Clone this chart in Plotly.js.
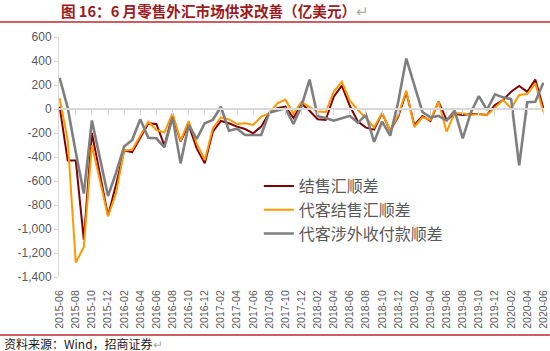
<!DOCTYPE html>
<html>
<head>
<meta charset="utf-8">
<script src="https://cdn.plot.ly/plotly-3.0.1.min.js"></script>
<style>html,body{margin:0;padding:0;background:#fff;}#chart{width:550px;height:351px;}</style>
</head>
<body>
<div id="chart"></div>
<script>
// Months 2015-06 .. 2020-06
const months = [];
for (let y = 2015; y <= 2020; y++) {
  for (let m = 1; m <= 12; m++) {
    if ((y === 2015 && m < 6) || (y === 2020 && m > 6)) continue;
    months.push(y + '-' + (m < 10 ? '0' + m : '' + m));
  }
}
const tickMonths = months.filter((_, i) => i % 2 === 0);

// 结售汇顺差 (亿美元)
const jieShouHui = [20, -430, -430, -1090, -200, -550, -890, -630, -345, -360,
  -240, -120, -125, -305, -50, -270, -133, -328, -453, -189,
  -100, -119, -147, -167, -203, -147, -31, 6, 19, -75,
  45, -15, -85, -92, 103, 195, 25, -105, -155, -172,
  -36, -181, -64, 140, -135, -58, -100, 61, -92, -42,
  -50, -42, -42, -50, 33, 75, 144, 192, 144, 245, 6];

// 代客结售汇顺差
const daiKeJieShouHui = [90, -260, -1280, -1150, -300, -590, -895, -700, -345, -340,
  -217, -106, -175, -195, -36, -265, -100, -286, -425, -161,
  -69, -86, -125, -119, -133, -64, -36, 47, 78, -40,
  60, 15, -20, -25, 144, 228, 70, -8, -75, -155,
  -31, -181, -50, 153, -150, -69, -92, 61, -189, -36,
  -36, -50, -42, -50, 10, 75, 6, 117, 125, 214, -25];

// 代客涉外收付款顺差
const daiKeSheWai = [260, 10, -360, -705, -95, -410, -725, -530, -312, -258,
  -86, -239, -244, -319, -70, -453, -133, -250, -119, -92,
  19, -181, -164, -217, -217, -217, -31, -14, 6, -125,
  25, 245, -60, -75, -97, -78, -57, -115, -47, -275,
  -105, -222, 60, 420, 190, -25, -69, -58, -97, -14,
  -244, -31, 108, -8, 122, 97, 83, -470, 56, 61, 219];

const yTicks = [600, 400, 200, 0, -200, -400, -600, -800, -1000, -1200, -1400];
const yTickText = yTicks.map(v => (v < 0 ? '-' : '') + Math.abs(v).toLocaleString('en-US'));

const seriesNames = ['结售汇顺差', '代客结售汇顺差', '代客涉外收付款顺差'];
const seriesColors = ['#800000', '#FF9900', '#7F7F7F'];
const seriesWidths = [2, 2, 2.6];
const seriesData = [jieShouHui, daiKeJieShouHui, daiKeSheWai];

const traces = seriesData.map((d, k) => ({
  type: 'scatter', mode: 'lines', x: months, y: d, name: seriesNames[k],
  line: {color: seriesColors[k], width: seriesWidths[k]}, hoverinfo: 'skip'
}));
// invisible carrier trace for the zero-line axis
traces.unshift({
  type: 'scatter', mode: 'lines', x: months, y: jieShouHui, xaxis: 'x2',
  line: {color: 'rgba(0,0,0,0)', width: 0}, showlegend: false, hoverinfo: 'skip'
});

const range = [-0.08, months.length - 1 + 0.08];
const layout = {
  width: 550, height: 351,
  margin: {l: 59, r: 6, t: 37, b: 74},
  paper_bgcolor: '#ffffff', plot_bgcolor: '#ffffff',
  font: {family: 'Liberation Sans, Arial, sans-serif', color: '#595959'},
  showlegend: true,
  title: {
    text: '<b>图 16：6 月零售外汇市场供求改善（亿美元）</b><span style="color:#aaaaaa">↵</span>',
    x: 0.004, xanchor: 'left', xref: 'paper', yref: 'container', y: 0.966, yanchor: 'middle',
    font: {family: 'Noto Sans CJK SC, sans-serif', size: 14.6, color: '#9B1B1E'}
  },
  xaxis: {
    type: 'category', categoryorder: 'array', categoryarray: months,
    range: range, tickmode: 'array', tickvals: tickMonths, ticktext: tickMonths,
    tickangle: -90, tickfont: {size: 10.5, color: '#595959', family: 'Liberation Sans, Arial, sans-serif'},
    showline: false, showgrid: false, zeroline: false,
    ticks: 'outside', ticklen: 8, tickcolor: 'rgba(0,0,0,0)'
  },
  xaxis2: {
    type: 'category', categoryorder: 'array', categoryarray: months,
    overlaying: 'x', anchor: 'free', position: 0.7, side: 'bottom',
    range: range, tickmode: 'array', tickvals: tickMonths.slice(1),
    showticklabels: false, showline: true, linecolor: '#d9d9d9', linewidth: 2,
    ticks: 'outside', ticklen: 5, tickcolor: '#d9d9d9', tickwidth: 1,
    showgrid: false, zeroline: false
  },
  yaxis: {
    range: [-1400, 600], tickmode: 'array', tickvals: yTicks, ticktext: yTickText,
    tickfont: {size: 12, color: '#595959'},
    showline: true, linecolor: '#d9d9d9', linewidth: 1,
    ticks: 'outside', ticklen: 4, tickcolor: '#d9d9d9',
    showgrid: false, zeroline: false
  },
  legend: {
    x: 0.412, y: 0.45, xanchor: 'left', yanchor: 'top',
    bgcolor: 'rgba(255,255,255,0)', borderwidth: 0,
    font: {family: 'Noto Sans CJK SC, sans-serif', size: 16, color: '#595959'},
    tracegroupgap: 0
  },
  shapes: [
    {type: 'line', xref: 'paper', yref: 'paper', x0: -0.13, x1: 1.02, y0: 1.0625, y1: 1.0625,
     line: {color: '#C0272D', width: 1.5}},
    {type: 'line', xref: 'paper', yref: 'paper', x0: -0.13, x1: 1.02, y0: -0.2417, y1: -0.2417,
     line: {color: '#C0272D', width: 1.5}}
  ],
  annotations: [
    {xref: 'paper', yref: 'paper', x: -0.118, y: -0.275, xanchor: 'left', yanchor: 'middle',
     showarrow: false,
     text: '资料来源：Wind，招商证券<span style="color:#aaaaaa">↵</span>',
     font: {family: 'Noto Sans CJK SC, sans-serif', size: 12, color: '#1a1a1a'}}
  ]
};

Plotly.newPlot('chart', traces, layout, {staticPlot: true, displayModeBar: false});
</script>
</body>
</html>
